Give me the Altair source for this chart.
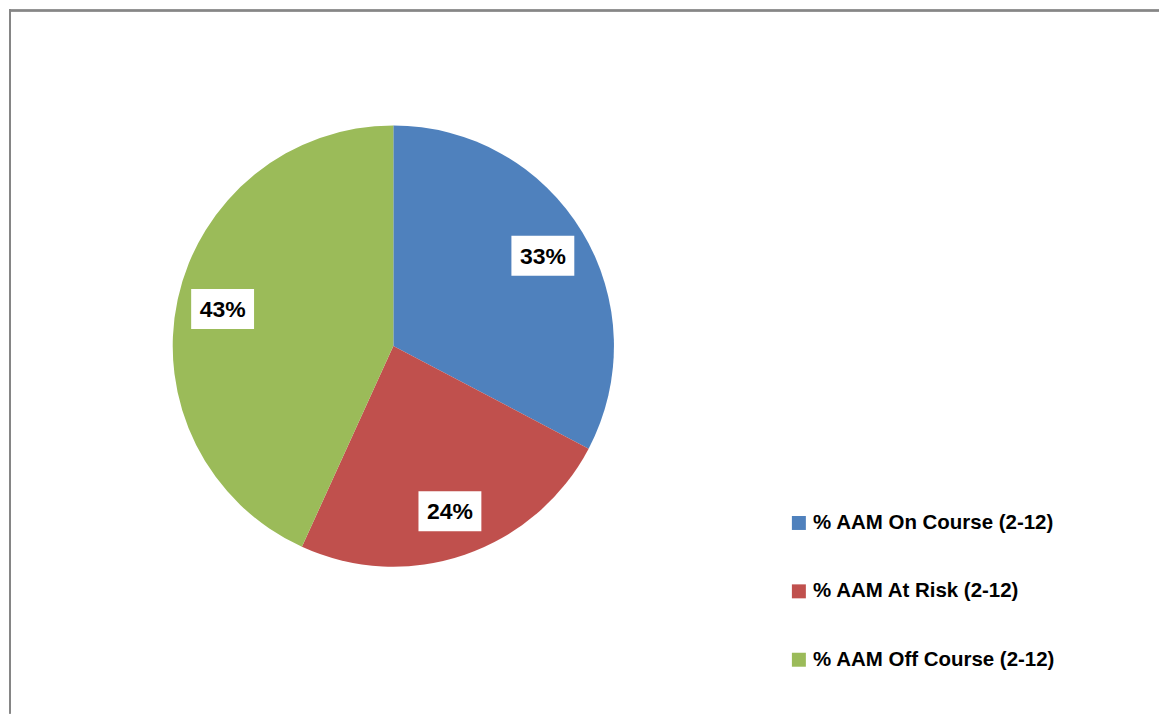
import altair as alt
import pandas as pd

categories = ["% AAM On Course (2-12)", "% AAM At Risk (2-12)", "% AAM Off Course (2-12)"]
values = [32.7, 24.1, 43.2]
labels = ["33%", "24%", "43%"]
colors = ["#4F81BD", "#C0504D", "#9BBB59"]

df = pd.DataFrame({
    "category": categories,
    "value": values,
    "label": labels,
    "idx": list(range(len(categories))),
})

W, H = 1152, 705
CX, CY = 385, 337
R_OUT = 221
R_LAB = 175
BOX_W, BOX_H = 63, 40

base = alt.Chart(df)

pie = base.mark_arc(outerRadius=R_OUT, strokeWidth=0).encode(
    theta=alt.Theta("value:Q", stack=True),
    color=alt.Color(
        "category:N",
        scale=alt.Scale(domain=categories, range=colors),
        sort=categories,
        legend=alt.Legend(
            title=None,
            orient="none",
            legendX=781,
            legendY=504,
            direction="vertical",
            symbolType="square",
            symbolSize=196,
            symbolStrokeWidth=0,
            symbolOpacity=1,
            labelFont="Liberation Sans",
            labelFontWeight="bold",
            labelFontSize=20.5,
            labelColor="#000000",
            labelOffset=4,
            rowPadding=47.5,
            padding=0,
            labelLimit=400,
        ),
    ),
    order=alt.Order("idx:Q"),
    x=alt.value(CX),
    y=alt.value(CY),
)

pos = base.transform_window(
    cum="sum(value)", sort=[alt.SortField("idx")]
).transform_joinaggregate(
    total="sum(value)"
).transform_calculate(
    mid="(datum.cum - datum.value / 2) / datum.total * 2 * PI"
).transform_calculate(
    cx=f"{CX} + {R_LAB} * sin(datum.mid)",
    cy=f"{CY} - {R_LAB} * cos(datum.mid)",
).transform_calculate(
    x0=f"datum.cx - {BOX_W / 2}",
    x1=f"datum.cx + {BOX_W / 2}",
    y0=f"datum.cy - {BOX_H / 2}",
    y1=f"datum.cy + {BOX_H / 2}",
)

xs = alt.Scale(domain=[0, W], nice=False, zero=False)
ys = alt.Scale(domain=[0, H], nice=False, zero=False, reverse=True)

boxes = pos.mark_rect(color="white").encode(
    x=alt.X("x0:Q", scale=xs, axis=None),
    x2="x1:Q",
    y=alt.Y("y0:Q", scale=ys, axis=None),
    y2="y1:Q",
)

texts = pos.mark_text(
    font="Liberation Sans", fontWeight="bold", fontSize=23,
    color="black", baseline="middle", align="center", dy=1,
).encode(
    x=alt.X("cx:Q", scale=xs, axis=None),
    y=alt.Y("cy:Q", scale=ys, axis=None),
    text="label:N",
)

frame_top = alt.Chart(df).mark_rule(color="#868686", strokeWidth=2).encode(
    x=alt.value(0), x2=alt.value(W), y=alt.value(1)
)
frame_left = alt.Chart(df).mark_rule(color="#868686", strokeWidth=2).encode(
    x=alt.value(1), y=alt.value(0), y2=alt.value(H)
)

chart = alt.layer(pie, boxes, texts, frame_top, frame_left).properties(
    width=W, height=H, padding=0, background="white"
).configure_view(stroke="transparent")

chart.save("out.html", embed_options={"renderer": "svg", "actions": False})
